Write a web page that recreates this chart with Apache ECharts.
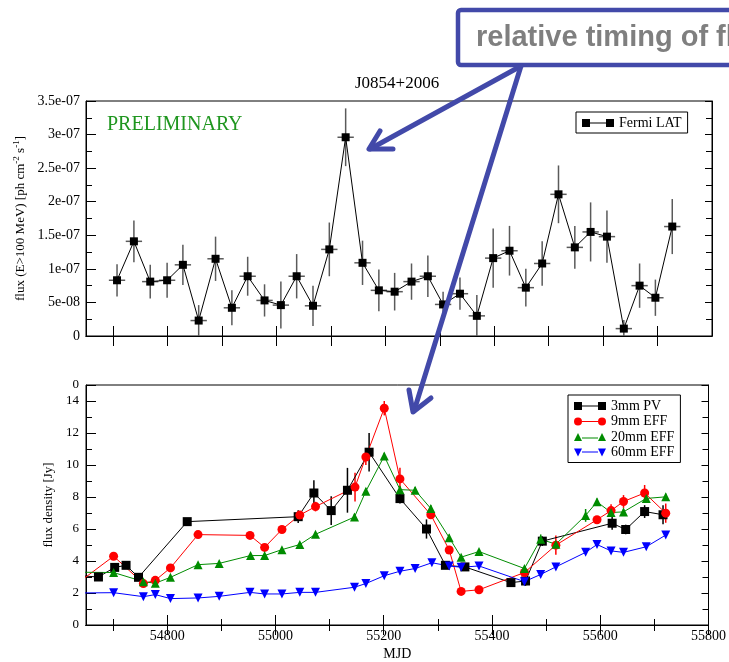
<!DOCTYPE html>
<html><head><meta charset="utf-8">
<script src="https://cdn.jsdelivr.net/npm/echarts@6/dist/echarts.min.js"></script>
<style>html,body{margin:0;padding:0;background:#fff}#c{width:729px;height:662px}</style>
</head><body><div id="c"></div>
<script>
// ---------- Fermi LAT (top panel), flux in units of 1e-8 ph cm^-2 s^-1 ----------
const latMJD  = [54707,54738,54768,54799,54828,54857,54888,54918,54947,54978,55008,55037,55067,55097,55127,55158,55188,55217,55248,55278,55306,55337,55368,55398,55428,55458,55488,55518,55548,55577,55607,55638,55667,55696,55727];
const latFlux = [8.3,14.1,8.1,8.3,10.6,2.3,11.5,4.2,8.9,5.3,4.6,8.9,4.5,12.9,29.6,10.9,6.8,6.6,8.1,8.9,4.7,6.3,3.0,11.6,12.7,7.2,10.8,21.1,13.2,15.5,14.8,1.1,7.5,5.7,16.3];
const latErr  = [2.4,3.1,2.5,2.6,3.0,2.3,3.3,2.6,2.9,2.4,3.5,3.3,3.0,4.0,4.3,3.3,3.1,2.8,2.7,3.1,1.9,2.4,3.1,4.4,3.7,2.8,3.3,4.3,3.2,4.4,3.9,1.3,3.3,2.7,4.1];
const latBinHalf = 15;
const latTickValues = [0, 0.5e-7, 1e-7, 1.5e-7, 2e-7, 2.5e-7, 3e-7, 3.5e-7];
const latTickLabels = ['0','5e-08','1e-07','1.5e-07','2e-07','2.5e-07','3e-07','3.5e-07'];
const latMinorTicks = [0.25e-7, 0.75e-7, 1.25e-7, 1.75e-7, 2.25e-7, 2.75e-7, 3.25e-7];

// ---------- radio (bottom panel), flux density in Jy ----------
const mjd3mm = [54630,54673,54703,54724,54747,54837,55042,55071,55103,55133,55173,55230,55279,55314,55350,55435,55462,55493,55622,55647,55682,55716];
const val3mm = [3.1,3.0,3.6,3.73,2.98,6.46,6.77,8.25,7.15,8.42,10.8,7.9,6.0,3.73,3.63,2.65,2.75,5.24,6.36,5.97,7.09,6.89];
const err3mm = [0,0.1,0.15,0.1,0.1,0.15,0.4,0.8,0.9,1.4,1.2,0.3,0.6,0.15,0.2,0.1,0.3,0.3,0.4,0.3,0.4,0.6];

const mjd9mm = [54630,54701,54756,54778,54806,54857,54953,54980,55012,55045,55074,55147,55167,55201,55230,55287,55321,55343,55376,55460,55518,55594,55620,55643,55682,55721];
const val9mm = [2.5,4.3,2.59,2.79,3.57,5.65,5.6,4.85,5.97,6.87,7.4,8.62,10.5,13.55,9.13,6.89,4.69,2.1,2.2,3.28,4.99,6.58,7.15,7.72,8.25,6.99];
const err9mm = [0,0.1,0.1,0.1,0.1,0.1,0.1,0.1,0.1,0.2,0.3,0.9,0.5,0.45,0.7,0.2,0.2,0.1,0.1,0.1,0.6,0.1,0.4,0.4,0.5,0.6];

const mjd20mm = [54630,54701,54756,54778,54806,54857,54896,54954,54980,55012,55045,55074,55146,55167,55201,55230,55258,55287,55321,55343,55376,55460,55490,55518,55573,55594,55620,55643,55685,55721];
const val20mm = [3.3,3.28,2.71,2.61,2.98,3.77,3.85,4.34,4.34,4.71,5.03,5.67,6.75,8.36,10.56,8.46,8.42,7.28,5.46,4.24,4.59,3.53,5.36,5.05,6.85,7.7,7.03,7.07,7.91,8.01];
const err20mm = [0,0.1,0.1,0.1,0.1,0.1,0.1,0.1,0.1,0.1,0.1,0.1,0.2,0.2,0.2,0.2,0.2,0.2,0.2,0.1,0.1,0.1,0.3,0.2,0.4,0.2,0.2,0.2,0.2,0.2];

const mjd60mm = [54630,54701,54756,54778,54806,54857,54896,54953,54980,55012,55045,55074,55146,55167,55201,55230,55258,55289,55321,55343,55376,55460,55490,55518,55573,55594,55620,55643,55685,55721];
const val60mm = [2.0,2.02,1.77,1.9,1.65,1.69,1.79,2.04,1.94,1.94,2.04,2.04,2.36,2.59,3.08,3.36,3.53,3.89,3.69,3.61,3.69,2.71,3.16,3.63,4.54,5.03,4.63,4.54,4.89,5.62];

const xMin = 54650, xMax = 55800;
const topXTicks = [54700,54800,54900,55000,55100,55200,55300,55400,55500,55600,55700];
const botXMajor = [54800,55000,55200,55400,55600,55800];
const botXLabels = ['54800','55000','55200','55400','55600','55800'];
const botXMinor = [54700,54900,55100,55300,55500,55700];
const botYMajor = [0,2,4,6,8,10,12,14,15];
const botYLabels = ['0','2','4','6','8','10','12','14','0'];
const botYMinor = [1,3,5,7,9,11,13];

const SERIF = 'Liberation Serif';
const chart = echarts.init(document.getElementById('c'), null, {renderer:'canvas'});

function xAx(grid, pos, ticks, len, opts) {
  return Object.assign({
    type:'value', gridIndex:grid, position:pos, min:xMin, max:xMax,
    axisLine:{show:true, lineStyle:{color:'#000', width:1}},
    axisTick:{show:true, inside:true, length:len, customValues:ticks, lineStyle:{color:'#000', width:1}},
    axisLabel:{show:false}, splitLine:{show:false}
  }, opts || {});
}
function yAx(grid, pos, min, max, ticks, len, opts) {
  return Object.assign({
    type:'value', gridIndex:grid, position:pos, min:min, max:max,
    axisLine:{show:true, lineStyle:{color:'#000', width:1}},
    axisTick:{show:true, inside:true, length:len, customValues:ticks, lineStyle:{color:'#000', width:1}},
    axisLabel:{show:false}, splitLine:{show:false}
  }, opts || {});
}

function errSeries(xi, yi, mjd, val, err, color, half) {
  return {
    type:'custom', xAxisIndex:xi, yAxisIndex:yi, clip:true, z:1, silent:true,
    data: mjd.map((m,i)=>[m, val[i], err[i]]),
    renderItem: function(params, api) {
      const x = api.value(0), y = api.value(1), e = api.value(2);
      const ch = [];
      if (e > 0) {
        const p1 = api.coord([x, y + e]), p2 = api.coord([x, y - e]);
        ch.push({type:'line', shape:{x1:p1[0], y1:p1[1], x2:p2[0], y2:p2[1]}, style:{stroke:color, lineWidth:1.5}});
      }
      if (half) {
        const h1 = api.coord([x - half, y]), h2 = api.coord([x + half, y]);
        ch.push({type:'line', shape:{x1:h1[0], y1:h1[1], x2:h2[0], y2:h2[1]}, style:{stroke:color, lineWidth:1.5}});
      }
      return {type:'group', children:ch};
    }
  };
}
function lineSeries(name, xi, yi, mjd, val, color, symbol, size, rot) {
  return {
    name:name, type:'line', xAxisIndex:xi, yAxisIndex:yi, z:3,
    data: mjd.map((m,i)=>[m, val[i]]),
    symbol:symbol, symbolSize:size, symbolRotate:rot||0, showSymbol:true,
    itemStyle:{color:color}, lineStyle:{color:color, width:1}, clip:true
  };
}

const latVals = latFlux.map(v => v * 1e-8);
const latErrs = latErr.map(v => v * 1e-8);

const icoSq  = 'path://M0,0H8V8H0Z M8,3.5H24V4.5H8Z M24,0H32V8H24Z';
const icoCi  = 'path://M0,4A4,4,0,1,1,8,4A4,4,0,1,1,0,4Z M8,3.5H24V4.5H8Z M24,4A4,4,0,1,1,32,4A4,4,0,1,1,24,4Z';
const icoUp  = 'path://M0,8L4,0L8,8Z M8,4.5H24V5.5H8Z M24,8L28,0L32,8Z';
const icoDn  = 'path://M0,0H8L4,8Z M8,3H24V4H8Z M24,0H32L28,8Z';

const option = {
  animation:false,
  backgroundColor:'#fff',
  title:[
    {text:'J0854+2006', left:355, top:75, padding:0, textStyle:{fontFamily:SERIF, fontSize:17, fontWeight:'normal', color:'#000'}},
    {text:'PRELIMINARY', left:107, top:115, padding:0, textStyle:{fontFamily:SERIF, fontSize:20, fontWeight:'normal', color:'#1f961f'}}
  ],
  grid:[
    {left:86, right:17, top:101, height:235, show:true, borderColor:'#000', borderWidth:1, backgroundColor:'transparent'},
    {left:86, right:17, top:385, height:246, show:true, borderColor:'#000', borderWidth:1, backgroundColor:'transparent'}
  ],
  xAxis:[
    xAx(0,'bottom',topXTicks,10),
    xAx(0,'top',topXTicks,10),
    xAx(1,'bottom',botXMajor,10,{
      axisLabel:{show:true, customValues:botXMajor, margin:4, fontFamily:SERIF, fontSize:14, color:'#000',
        formatter:function(v){const i=botXMajor.indexOf(v);return i>=0?botXLabels[i]:'';}},
      name:'MJD', nameLocation:'middle', nameGap:22, nameTextStyle:{fontFamily:SERIF, fontSize:14, color:'#000'}
    }),
    xAx(1,'top',botXMajor,10),
    xAx(1,'bottom',botXMinor,6),
    xAx(1,'top',botXMinor,6)
  ],
  yAxis:[
    yAx(0,'left',0,3.5e-7,latTickValues,10,{
      axisLabel:{show:true, customValues:latTickValues, margin:6, fontFamily:SERIF, fontSize:14, color:'#000',
        formatter:function(v){const i=latTickValues.findIndex(t=>Math.abs(t-v)<1e-10);return i>=0?latTickLabels[i]:'';}},
      name:'{a|flux (E>100 MeV) [ph cm}{s|-2}{a| s}{s|-1}{a|]}', nameLocation:'middle', nameGap:52,
      nameTextStyle:{fontFamily:SERIF, fontSize:13, color:'#000',
        rich:{a:{fontFamily:SERIF, fontSize:13, color:'#000'}, s:{fontFamily:SERIF, fontSize:9, color:'#000', padding:[0,0,7,0]}}}
    }),
    yAx(0,'right',0,3.5e-7,latTickValues,7),
    yAx(0,'left',0,3.5e-7,latMinorTicks,6,{axisLine:{show:false}}),
    yAx(0,'right',0,3.5e-7,latMinorTicks,6,{axisLine:{show:false}}),
    yAx(1,'left',0,15,botYMajor,10,{
      axisLabel:{show:true, customValues:botYMajor, margin:7, fontFamily:SERIF, fontSize:13, color:'#000',
        formatter:function(v){const i=botYMajor.indexOf(v);return i>=0?botYLabels[i]:'';}},
      name:'flux density [Jy]', nameLocation:'middle', nameGap:24,
      nameTextStyle:{fontFamily:SERIF, fontSize:13, color:'#000'}
    }),
    yAx(1,'right',0,15,botYMajor,7),
    yAx(1,'left',0,15,botYMinor,6,{axisLine:{show:false}}),
    yAx(1,'right',0,15,botYMinor,6,{axisLine:{show:false}})
  ],
  legend:[
    {orient:'vertical', left:576, top:112, padding:[4,6,3,6], itemGap:2, itemWidth:32, itemHeight:8,
     backgroundColor:'#fff', borderColor:'#000', borderWidth:1, borderRadius:0,
     textStyle:{fontFamily:SERIF, fontSize:14, color:'#000'}, selectedMode:false,
     data:[{name:'Fermi LAT', icon:icoSq}]},
    {orient:'vertical', left:568, top:395, padding:[4,6,3,6], itemGap:1.5, itemWidth:32, itemHeight:8,
     backgroundColor:'#fff', borderColor:'#000', borderWidth:1, borderRadius:0,
     textStyle:{fontFamily:SERIF, fontSize:14, color:'#000'}, selectedMode:false,
     data:[{name:'3mm PV', icon:icoSq},{name:'9mm EFF', icon:icoCi},{name:'20mm EFF', icon:icoUp},{name:'60mm EFF', icon:icoDn}]}
  ],
  series:[
    errSeries(0,0,latMJD,latVals,latErrs,'#5a5a5a',latBinHalf),
    lineSeries('Fermi LAT',0,0,latMJD,latVals,'#000','rect',8),
    errSeries(2,4,mjd3mm,val3mm,err3mm,'#000',0),
    errSeries(2,4,mjd9mm,val9mm,err9mm,'#ff0000',0),
    errSeries(2,4,mjd20mm,val20mm,err20mm,'#008c00',0),
    lineSeries('3mm PV',2,4,mjd3mm,val3mm,'#000','rect',9),
    lineSeries('9mm EFF',2,4,mjd9mm,val9mm,'#ff0000','circle',9),
    lineSeries('20mm EFF',2,4,mjd20mm,val20mm,'#008c00','triangle',9),
    lineSeries('60mm EFF',2,4,mjd60mm,val60mm,'#0000ff','triangle',9,180)
  ],
  graphic:[
    {type:'rect', z:100, shape:{x:458, y:10, width:320, height:55, r:3}, style:{fill:'#fff', stroke:'#4249a9', lineWidth:4.5}},
    {type:'text', z:101, x:476, y:38, style:{text:'relative timing of flares', fill:'#7f7f7f', font:'bold 29px "Liberation Sans"', textVerticalAlign:'middle', textAlign:'left'}},
    {type:'polyline', z:100, shape:{points:[[521,66],[370,149]]}, style:{stroke:'#4249a9', lineWidth:5, lineCap:'round', fill:null}},
    {type:'polyline', z:100, shape:{points:[[380,131],[369,149],[393,149]]}, style:{stroke:'#4249a9', lineWidth:5, lineCap:'round', lineJoin:'round', fill:null}},
    {type:'polyline', z:100, shape:{points:[[521,66],[414,411]]}, style:{stroke:'#4249a9', lineWidth:5, lineCap:'round', fill:null}},
    {type:'polyline', z:100, shape:{points:[[409,390],[413,412],[431,398]]}, style:{stroke:'#4249a9', lineWidth:5, lineCap:'round', lineJoin:'round', fill:null}}
  ]
};
chart.setOption(option);
</script></body></html>
